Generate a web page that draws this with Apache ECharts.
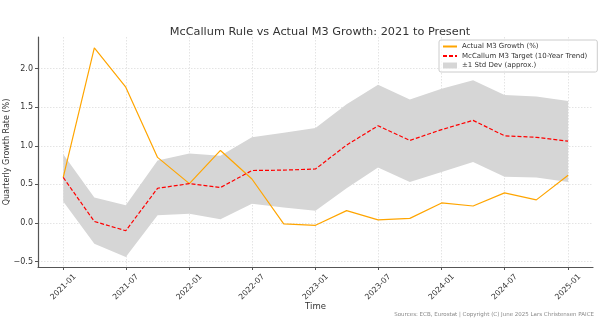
<!DOCTYPE html>
<html>
<head>
<meta charset="utf-8">
<script src="https://cdn.jsdelivr.net/npm/echarts@6/dist/echarts.min.js"></script>
<style>html,body{margin:0;padding:0;background:#fff}#c{width:600px;height:330px}</style>
</head>
<body>
<div id="c"></div>
<script>
const dates = ['2021-01-01','2021-04-01','2021-07-01','2021-10-01','2022-01-01','2022-04-01','2022-07-01','2022-10-01','2023-01-01','2023-04-01','2023-07-01','2023-10-01','2024-01-01','2024-04-01','2024-07-01','2024-10-01','2025-01-01'];
const actualM3 = [0.59, 2.27, 1.76, 0.85, 0.51, 0.94, 0.57, -0.01, -0.03, 0.16, 0.04, 0.06, 0.26, 0.22, 0.39, 0.30, 0.62];
const mcCallumTarget = [0.59, 0.02, -0.10, 0.45, 0.51, 0.46, 0.68, 0.685, 0.70, 1.01, 1.26, 1.07, 1.21, 1.33, 1.13, 1.11, 1.06];
const bandUpper = [0.89, 0.33, 0.23, 0.81, 0.90, 0.87, 1.11, 1.17, 1.23, 1.54, 1.79, 1.60, 1.74, 1.85, 1.66, 1.64, 1.58];
const bandLower = [0.28, -0.27, -0.44, 0.10, 0.12, 0.05, 0.25, 0.20, 0.16, 0.45, 0.72, 0.53, 0.66, 0.79, 0.60, 0.59, 0.53];
const xTickLabels = ['2021-01-01','2021-07-01','2022-01-01','2022-07-01','2023-01-01','2023-07-01','2024-01-01','2024-07-01','2025-01-01'];
const yTickValues = [-0.5, 0, 0.5, 1.0, 1.5, 2.0];

const names = {
  actual: 'Actual M3 Growth (%)',
  target: 'McCallum M3 Target (10-Year Trend)',
  band: '±1 Std Dev (approx.)'
};
const FONT = 'DejaVu Sans';
const toTs = d => new Date(d + 'T00:00:00Z').getTime();
const xTicks = xTickLabels.map(toTs);
const pair = arr => dates.map((d, i) => [toTs(d), arr[i]]);
const bandData = dates.map((d, i) => [toTs(d), bandLower[i], bandUpper[i]]);

const chart = echarts.init(document.getElementById('c'), null, {renderer: 'canvas'});
chart.setOption({
  animation: false,
  textStyle: {fontFamily: FONT},
  title: {
    text: 'McCallum Rule vs Actual M3 Growth: 2021 to Present',
    left: 315, top: 22, textAlign: 'center',
    textStyle: {fontFamily: FONT, fontSize: 11.3, fontWeight: 'normal', color: '#333'}
  },
  grid: {left: 38, right: 7, top: 37, bottom: 63, containLabel: false, outerBoundsMode: 'none'},
  legend: {
    orient: 'vertical', left: 439, top: 40,
    itemWidth: 14, itemHeight: 6, itemGap: 2.5,
    padding: [3, 10, 3, 3],
    borderColor: '#cccccc', borderWidth: 1, borderRadius: 2,
    backgroundColor: 'rgba(255,255,255,0.8)',
    itemStyle: {opacity: 0},
    textStyle: {fontFamily: FONT, fontSize: 7, color: '#333'},
    data: [
      {name: names.actual},
      {name: names.target},
      {name: names.band, icon: 'rect', itemStyle: {color: '#d6d6d6', opacity: 1}}
    ]
  },
  xAxis: {
    type: 'value',
    min: toTs('2020-10-20'), max: toTs('2025-03-14'),
    name: 'Time', nameLocation: 'middle', nameGap: 35, nameMoveOverlap: false,
    nameTextStyle: {fontFamily: FONT, fontSize: 8.5, color: '#333'},
    axisLine: {onZero: false, lineStyle: {color: '#555', width: 1.2}},
    axisTick: {customValues: xTicks, length: 3, lineStyle: {color: '#555'}},
    axisLabel: {
      customValues: xTicks, rotate: 45, margin: 20,
      align: 'center', verticalAlign: 'middle',
      fontFamily: FONT, fontSize: 7.8, color: '#333',
      formatter: v => { const d = new Date(v); return d.getUTCFullYear() + '-' + String(d.getUTCMonth() + 1).padStart(2, '0'); }
    },
    splitLine: {show: true, lineStyle: {color: '#dddddd', type: [1.5, 1.5], width: 0.8}}
  },
  yAxis: {
    type: 'value', min: -0.57, max: 2.41,
    name: 'Quarterly Growth Rate (%)', nameLocation: 'middle', nameGap: 27, nameRotate: 90, nameMoveOverlap: false,
    nameTextStyle: {fontFamily: FONT, fontSize: 8, color: '#333'},
    axisLine: {show: true, onZero: false, lineStyle: {color: '#555', width: 1.2}},
    axisTick: {show: true, customValues: yTickValues, length: 3, lineStyle: {color: '#555'}},
    axisLabel: {
      customValues: yTickValues, margin: 5,
      fontFamily: FONT, fontSize: 8, color: '#333',
      formatter: v => (v < 0 ? '\u2212' : '') + Math.abs(v).toFixed(1)
    },
    splitLine: {show: true, lineStyle: {color: '#dddddd', type: [1.5, 1.5], width: 0.8}}
  },
  series: [
    {
      name: names.band, type: 'custom', data: bandData,
      itemStyle: {color: '#d6d6d6'},
      encode: {x: 0, y: [1, 2]},
      silent: true, z: 1,
      renderItem: (params, api) => {
        if (params.dataIndex !== 0) return null;
        const top = bandData.map(r => api.coord([r[0], r[2]]));
        const bot = bandData.map(r => api.coord([r[0], r[1]])).reverse();
        return {type: 'polygon', shape: {points: top.concat(bot)}, style: {fill: '#d6d6d6'}};
      }
    },
    {
      name: names.actual, type: 'line', data: pair(actualM3),
      showSymbol: false, symbol: 'none',
      itemStyle: {color: '#FFA500'},
      lineStyle: {color: '#FFA500', width: 1.2}, z: 3
    },
    {
      name: names.target, type: 'line', data: pair(mcCallumTarget),
      showSymbol: false, symbol: 'none',
      itemStyle: {color: '#ff0000'},
      lineStyle: {color: '#ff0000', width: 1.2, type: [4, 2]}, z: 4
    }
  ],
  graphic: [{
    type: 'text', right: 6, top: 312,
    style: {text: 'Sources: ECB, Eurostat | Copyright (C) June 2025 Lars Christensen PAICE', fontFamily: FONT, fontSize: 5.5, fill: '#888'}
  }]
});
</script>
</body>
</html>
